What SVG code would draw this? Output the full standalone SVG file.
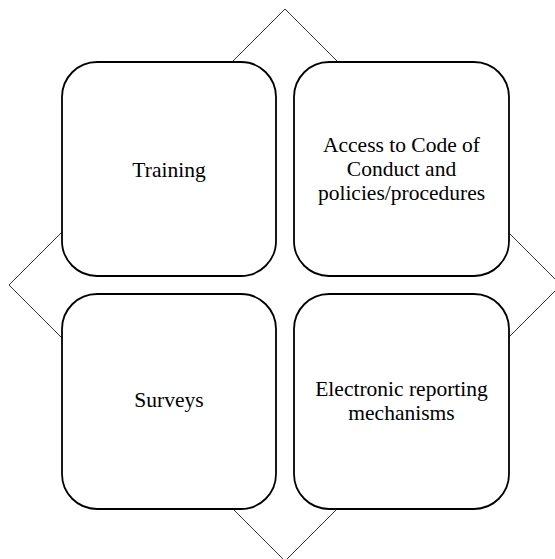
<svg xmlns="http://www.w3.org/2000/svg" width="555" height="559" viewBox="0 0 555 559">
  <style>
    .frame { fill: #ffffff; stroke: #333333; stroke-width: 1; }
    .box { fill: #ffffff; stroke: #000000; stroke-width: 1.8; }
    .label { font-family: "Liberation Serif", "Times New Roman", serif; font-size: 21.5px; fill: #000000; text-anchor: middle; }
  </style>
  <rect width="555" height="559" fill="#ffffff"/>
  <!-- background diamond -->
  <g id="connectors">
    <polygon class="frame" points="285,9 561,285 285,561 9,285"/>
  </g>
  <g id="node-training">
    <rect class="box" x="62" y="62" width="214" height="214" rx="35" ry="35"/>
    <text class="label" x="169" y="177">Training</text>
  </g>
  <g id="node-access">
    <rect class="box" x="294" y="62" width="215" height="214" rx="35" ry="35"/>
    <text class="label" x="401.5" y="152">Access to Code of</text>
    <text class="label" x="401.5" y="176">Conduct and</text>
    <text class="label" x="401.5" y="200">policies/procedures</text>
  </g>
  <g id="node-surveys">
    <rect class="box" x="62" y="294" width="214" height="215" rx="35" ry="35"/>
    <text class="label" x="169" y="407">Surveys</text>
  </g>
  <g id="node-electronic">
    <rect class="box" x="294" y="294" width="215" height="215" rx="35" ry="35"/>
    <text class="label" x="401.5" y="396">Electronic reporting</text>
    <text class="label" x="401.5" y="420">mechanisms</text>
  </g>
</svg>
